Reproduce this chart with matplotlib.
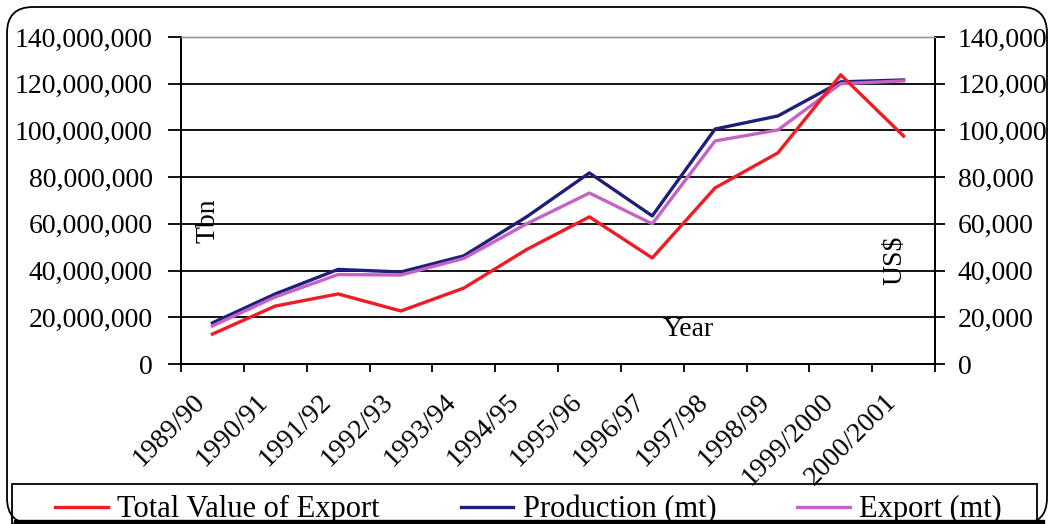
import numpy as np
import matplotlib.pyplot as plt
import matplotlib.transforms as mtransforms
from matplotlib.patches import FancyBboxPatch, Rectangle
from matplotlib.ticker import FuncFormatter, MultipleLocator

# data
years = ['1989/90', '1990/91', '1991/92', '1992/93', '1993/94', '1994/95',
         '1995/96', '1996/97', '1997/98', '1998/99', '1999/2000', '2000/2001']
value_export = [12800, 24800, 30000, 22700, 32500, 49000,
                63000, 45400, 75400, 90400, 123800, 97600]          # US$ (right axis)
production = [17.6e6, 30.0e6, 40.5e6, 39.4e6, 46.3e6, 63.0e6,
              81.8e6, 63.4e6, 100.6e6, 106.2e6, 120.8e6, 121.6e6]   # Tbn (left axis)
export = [16.3e6, 28.7e6, 38.3e6, 38.1e6, 45.2e6, 60.0e6,
          73.2e6, 60.0e6, 95.5e6, 100.2e6, 120.0e6, 121.2e6]

plt.rcParams['font.family'] = ['Liberation Serif', 'DejaVu Serif']
plt.rcParams['font.size'] = 20

W, H = 1051, 524
fig = plt.figure(figsize=(W / 100, H / 100), dpi=100)
ax = fig.add_axes([181 / W, 1 - 364 / H, (935 - 181) / W, (364 - 37) / H])
ax2 = ax.twinx()

x = np.arange(len(years)) + 0.5
l_prod, = ax.plot(x, production, color='#1f1f7a', lw=2.4, label='Production (mt)')
l_exp, = ax.plot(x, export, color='#c463c4', lw=2.4, label='Export (mt)')
l_val, = ax2.plot(x, value_export, color='#f01c24', lw=2.4, label='Total Value of Export')

ax.set_xlim(0, len(years))
ax.set_ylim(0, 140e6)
ax2.set_ylim(0, 140000)
ax.yaxis.set_major_locator(MultipleLocator(20e6))
ax2.yaxis.set_major_locator(MultipleLocator(20000))
comma = FuncFormatter(lambda v, p: f'{v:,.0f}')
ax.yaxis.set_major_formatter(comma)
ax2.yaxis.set_major_formatter(comma)

ax.grid(axis='y', color='black', lw=1.3)
ax.get_ygridlines()[-1].set_color('#999999')
ax.set_axisbelow(True)

ax.set_xticks(x)
ax.set_xticklabels(years, rotation=45, ha='right', rotation_mode='anchor')
ax.set_xticks(np.arange(len(years) + 1), minor=True)
ax.tick_params(axis='x', which='major', length=0, pad=18)
ax.tick_params(axis='x', which='minor', length=6, width=1.3)
ax.tick_params(axis='y', length=9.5, width=1.3, pad=11)
ax2.tick_params(axis='y', length=7, width=1.3, pad=9.5)

# excel puts the rotated labels a bit left of the category centre
shift = mtransforms.ScaledTranslation(-20 / 100, 0, fig.dpi_scale_trans)
for lbl in ax.get_xticklabels():
    lbl.set_transform(lbl.get_transform() + shift)

for a in (ax, ax2):
    for s in a.spines.values():
        s.set_linewidth(1.3)
        s.set_color('black')
    a.spines['top'].set_color('#999999')
    a.spines['top'].set_linewidth(1)

fig.text(208 / W, 1 - 221 / H, 'Tbn', rotation=90, ha='center', va='center')
fig.text(895 / W, 1 - 260 / H, 'US$', rotation=90, ha='center', va='center')
fig.text(688 / W, 1 - 330 / H, 'Year', ha='center', va='center')

leg = fig.legend(handles=[l_val, l_prod, l_exp], loc='upper left', ncol=3,
                 bbox_to_anchor=(55 / W, 1 - 495 / H), frameon=False,
                 borderaxespad=0, borderpad=0, fontsize=22,
                 handlelength=1.73, handletextpad=0.3, columnspacing=2.65)

px = mtransforms.IdentityTransform()
# legend box, its bottom hidden under the frame's shadow
fig.add_artist(Rectangle((12, 0), 1025, H - 484, transform=px, fill=False,
                         edgecolor='black', lw=1.3, zorder=6))
# outer chart frame with rounded corners
fig.add_artist(FancyBboxPatch((7, 0), 1040, H - 7, boxstyle='round,pad=0,rounding_size=26',
                              transform=px, fill=False, edgecolor='black', lw=1.3, zorder=6))
fig.add_artist(Rectangle((14, 0), 1030, 4.5, transform=px, color='black', zorder=10))

fig.savefig('out.png', dpi=100)
